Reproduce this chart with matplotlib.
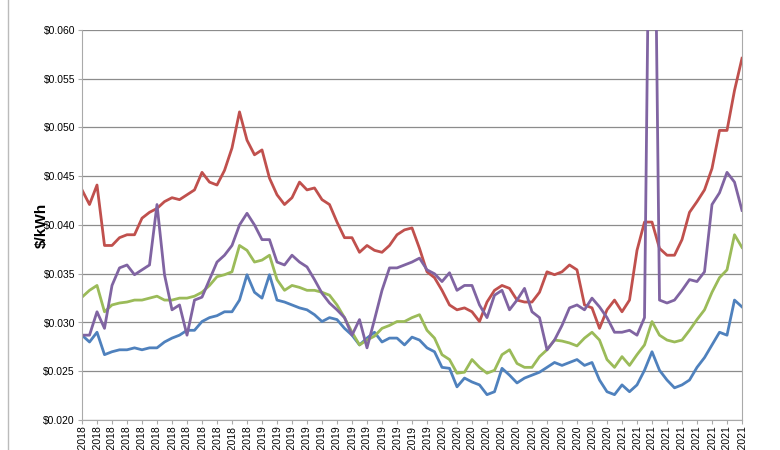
import numpy as np
import matplotlib
matplotlib.use("Agg")
import matplotlib.pyplot as plt
from matplotlib.lines import Line2D

# x positions: months since Jan 2018, half-month steps
months = np.arange(0, 44.5, 0.5)

# values in cents per kWh
red = [4.36,4.21,4.41,3.79,3.79,3.87,3.90,3.90,4.07,4.13,
       4.17,4.24,4.28,4.26,4.31,4.36,4.54,4.44,4.41,4.56,
       4.79,5.16,4.87,4.72,4.77,4.48,4.31,4.21,4.28,4.44,
       4.36,4.38,4.26,4.21,4.03,3.87,3.87,3.72,3.79,3.74,
       3.72,3.79,3.90,3.95,3.97,3.76,3.52,3.46,3.33,3.18,
       3.13,3.15,3.11,3.01,3.21,3.33,3.38,3.35,3.23,3.21,
       3.21,3.31,3.52,3.49,3.52,3.59,3.54,3.18,3.15,2.94,
       3.13,3.23,3.11,3.23,3.74,4.03,4.03,3.76,3.69,3.69,
       3.85,4.13,4.24,4.36,4.58,4.97,4.97,5.38,5.71]
blue = [2.87,2.80,2.90,2.67,2.70,2.72,2.72,2.74,2.72,2.74,
        2.74,2.80,2.84,2.87,2.92,2.92,3.01,3.05,3.07,3.11,
        3.11,3.23,3.49,3.31,3.25,3.49,3.23,3.21,3.18,3.15,
        3.13,3.08,3.01,3.05,3.03,2.94,2.87,2.77,2.84,2.90,
        2.80,2.84,2.84,2.77,2.85,2.82,2.74,2.70,2.54,2.53,
        2.34,2.43,2.39,2.36,2.26,2.29,2.53,2.46,2.38,2.43,
        2.46,2.49,2.54,2.59,2.56,2.59,2.62,2.56,2.59,2.41,
        2.29,2.26,2.36,2.29,2.36,2.51,2.70,2.51,2.41,2.33,
        2.36,2.41,2.54,2.64,2.77,2.90,2.87,3.23,3.16]
green = [3.26,3.33,3.38,3.11,3.18,3.20,3.21,3.23,3.23,3.25,
         3.27,3.23,3.23,3.25,3.25,3.27,3.31,3.38,3.47,3.49,
         3.52,3.79,3.74,3.62,3.64,3.69,3.44,3.33,3.38,3.36,
         3.33,3.33,3.31,3.28,3.18,3.05,2.90,2.77,2.82,2.86,
         2.94,2.97,3.01,3.01,3.05,3.08,2.92,2.84,2.67,2.62,
         2.48,2.49,2.62,2.54,2.48,2.51,2.67,2.72,2.58,2.54,
         2.54,2.65,2.72,2.82,2.81,2.79,2.76,2.84,2.90,2.82,
         2.62,2.54,2.65,2.56,2.67,2.77,3.01,2.87,2.82,2.80,
         2.82,2.92,3.03,3.13,3.31,3.46,3.54,3.90,3.77]
purple = [2.87,2.87,3.11,2.94,3.38,3.56,3.59,3.49,3.54,3.59,
          4.21,3.49,3.13,3.18,2.87,3.23,3.26,3.44,3.62,3.69,
          3.79,4.00,4.12,4.00,3.85,3.85,3.62,3.59,3.69,3.62,
          3.57,3.44,3.30,3.20,3.13,3.05,2.87,3.03,2.74,3.03,
          3.33,3.56,3.56,3.59,3.62,3.66,3.54,3.50,3.42,3.51,
          3.33,3.38,3.38,3.18,3.05,3.28,3.33,3.13,3.23,3.35,
          3.11,3.05,2.72,2.82,2.97,3.15,3.18,3.13,3.25,3.16,
          3.05,2.90,2.90,2.92,2.87,3.05,10.0,3.23,3.20,3.23,
          3.33,3.44,3.42,3.52,4.21,4.33,4.54,4.44,4.15]

tick_months = list(range(0, 45))
tick_labels = [f"{(m % 12) + 1}/1/{2018 + m // 12}" for m in tick_months]
y_ticks = [0.020, 0.025, 0.030, 0.035, 0.040, 0.045, 0.050, 0.055, 0.060]

fig = plt.figure(figsize=(7.8, 4.5), dpi=100)
ax = fig.add_axes([82/780, 30/450, 660/780, 390/450])

for vals, col in [(red, "#C0504D"), (blue, "#4F81BD"), (green, "#9BBB59"), (purple, "#8064A2")]:
    ax.plot(months, np.array(vals) / 100.0, color=col, lw=2.0, solid_joinstyle="round")

ax.set_xlim(0, 44)
ax.set_ylim(0.020, 0.060)
ax.set_yticks(y_ticks)
ax.set_yticklabels([f"${v:.3f}" for v in y_ticks], fontsize=7.5, fontfamily="Liberation Sans")
ax.set_xticks(tick_months)
ax.set_xticklabels(tick_labels, rotation=90, fontsize=7.5, fontfamily="Liberation Sans", va="top")
ax.grid(axis="y", color="#8c8c8c", lw=0.9)
ax.set_axisbelow(True)
ax.spines["top"].set_visible(False)
for s in ["left", "right", "bottom"]:
    ax.spines[s].set_color("#aaaaaa")
ax.tick_params(axis="both", length=3, color="#aaaaaa", pad=2)
ax.tick_params(axis="x", pad=1)
ax.set_ylabel("$/kWh", fontsize=11, fontweight="bold", fontfamily="Liberation Sans", labelpad=-2)
ax.yaxis.set_label_coords(-0.05, 0.5)

fig.add_artist(Line2D([8/780, 8/780], [0, 1], color="#bbbbbb", lw=1))

fig.savefig("out.png", dpi=100)
